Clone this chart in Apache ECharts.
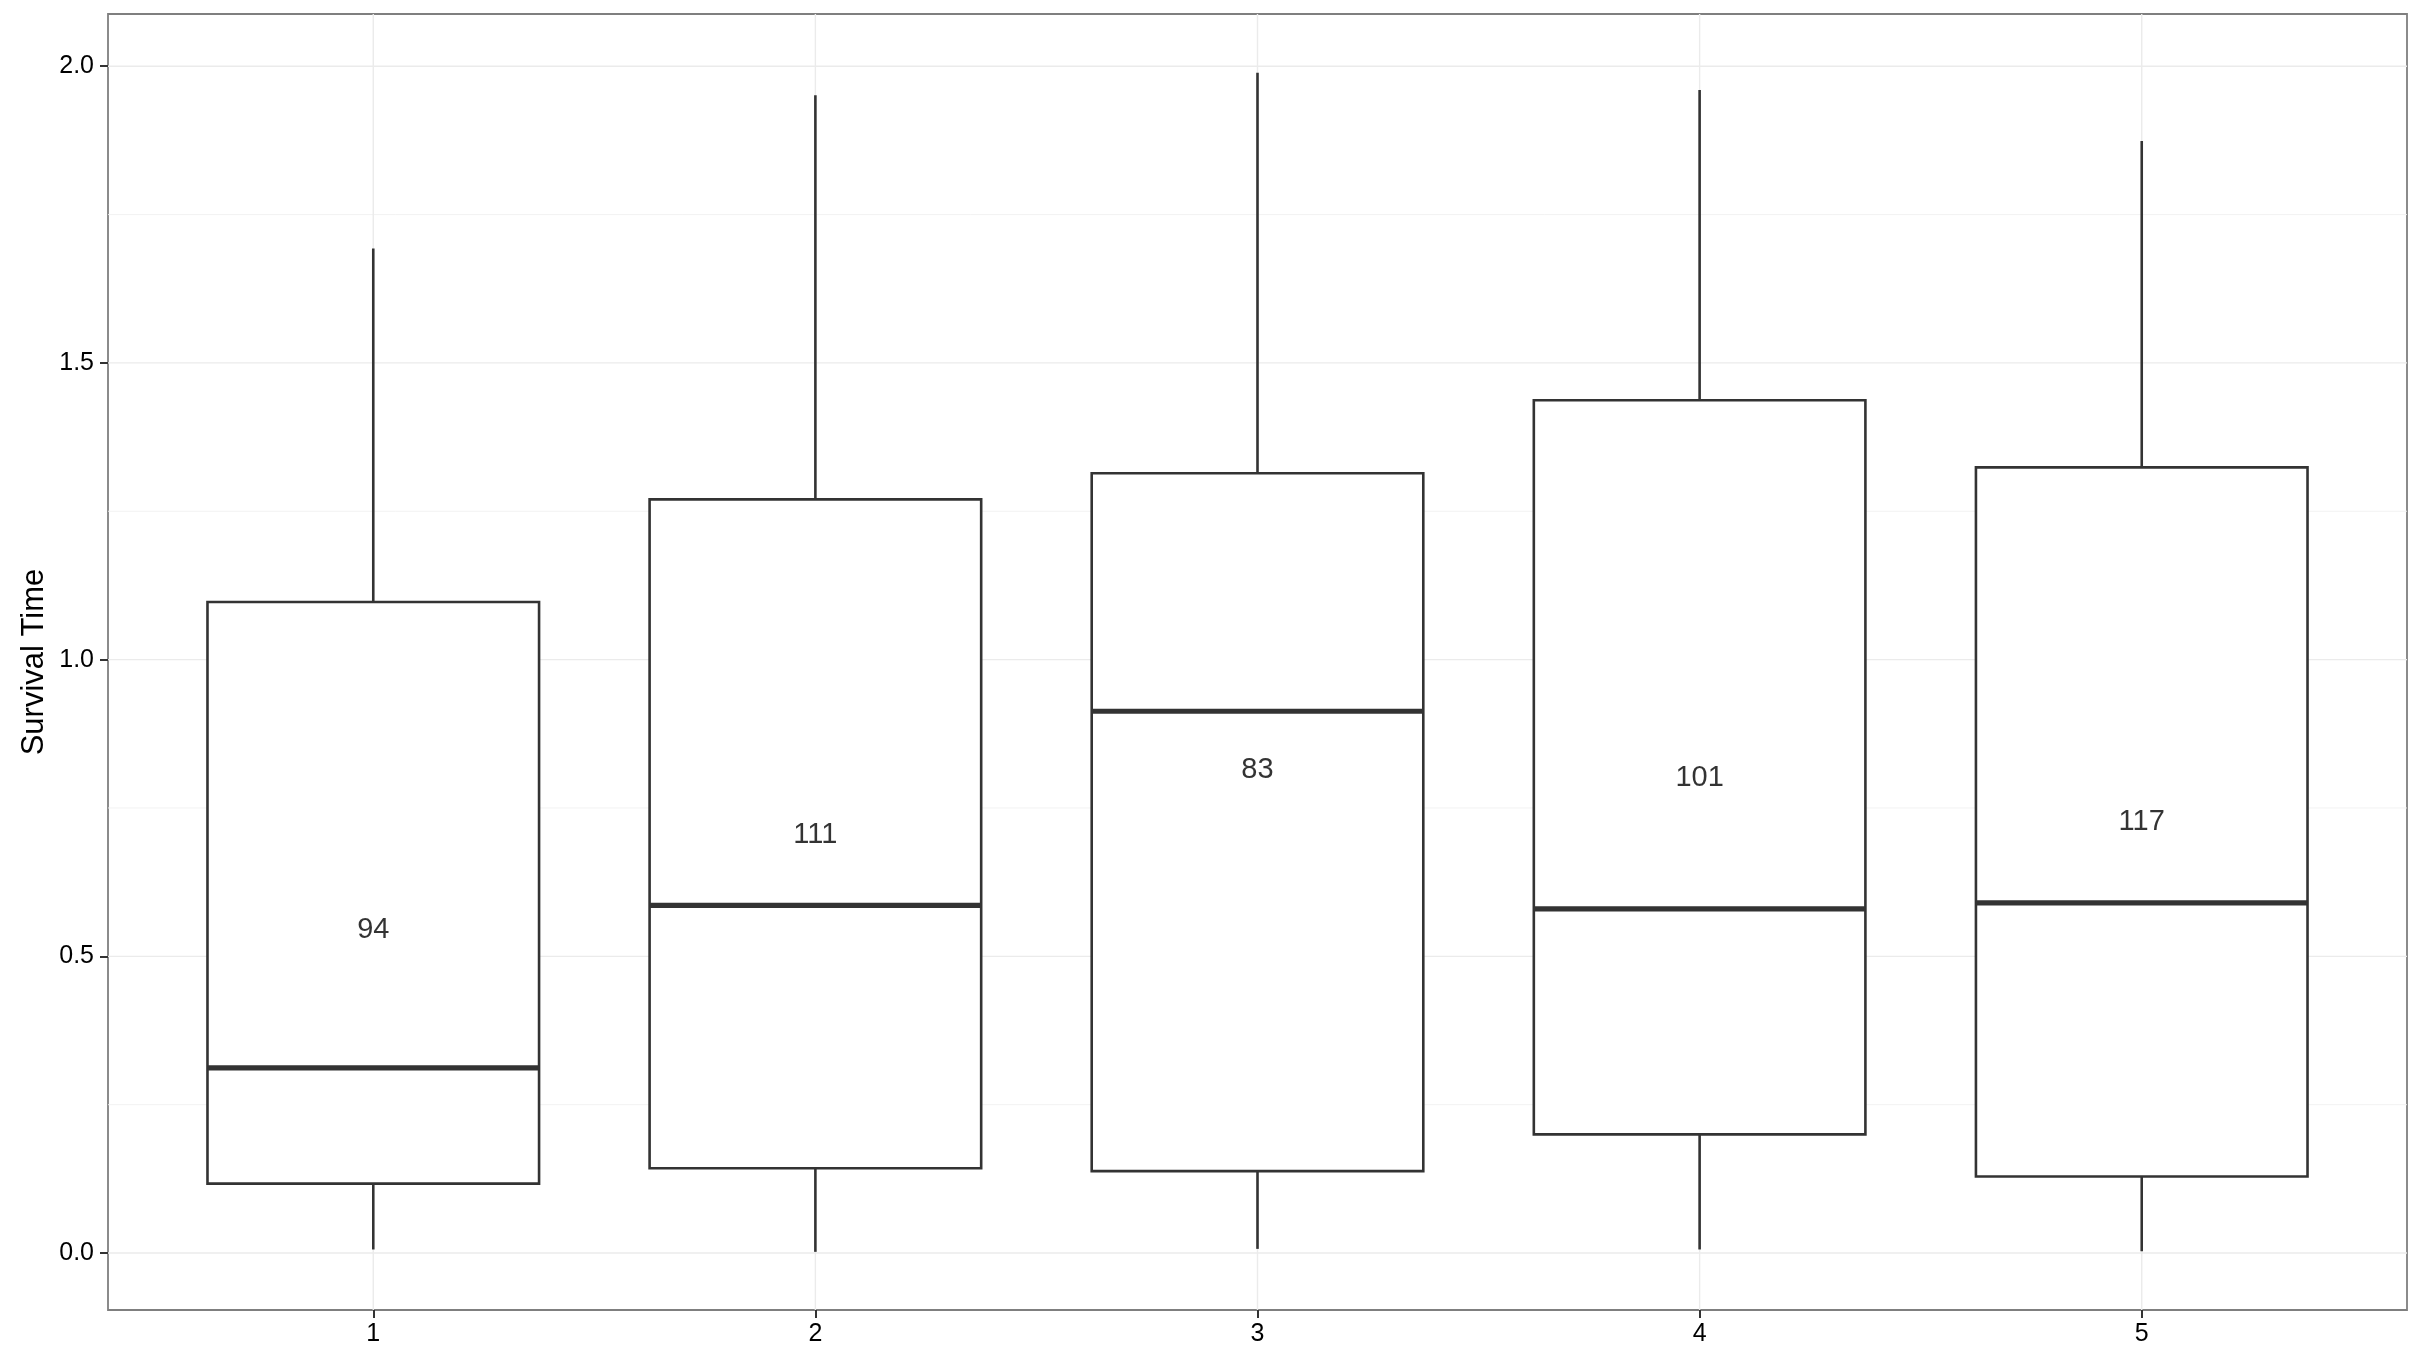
<!DOCTYPE html>
<html>
<head>
<meta charset="utf-8">
<script src="https://cdn.jsdelivr.net/npm/echarts@6/dist/echarts.min.js"></script>
<style>
  html, body { margin: 0; padding: 0; background: #fff; }
  #chart { width: 2420px; height: 1354px; }
</style>
</head>
<body>
<div id="chart"></div>
<script>
// box stats per group
const categories = ['1', '2', '3', '4', '5']
const whiskerLow = [0.006, 0.002, 0.007, 0.006, 0.003]
const q1 = [0.117, 0.143, 0.138, 0.200, 0.129]
const median = [0.312, 0.586, 0.913, 0.580, 0.590]
const q3 = [1.097, 1.270, 1.314, 1.437, 1.324]
const whiskerHigh = [1.693, 1.951, 1.989, 1.960, 1.874]
// group sizes, drawn at the group mean
const counts = [94, 111, 83, 101, 117]
const countY = [0.549, 0.710, 0.819, 0.805, 0.731]
const yTicks = [0, 0.5, 1.0, 1.5, 2.0]
const yMinorTicks = [0.25, 0.75, 1.25, 1.75]
const xTicks = [1, 2, 3, 4, 5]

const FONT = 'Liberation Sans'
const INK = '#333333'

const boxData = categories.map((c, i) => [i + 1, whiskerLow[i], q1[i], median[i], q3[i], whiskerHigh[i]])
const countData = categories.map((c, i) => [i + 1, countY[i], counts[i]])

function hLines (color, width) {
  return function (params, api) {
    const cs = params.coordSys
    const y = api.coord([1, api.value(0)])[1]
    return {type: 'line', shape: {x1: cs.x, y1: y, x2: cs.x + cs.width, y2: y}, style: {stroke: color, lineWidth: width}}
  }
}

function vLines (params, api) {
  const cs = params.coordSys
  const x = api.coord([api.value(0), 0])[0]
  return {type: 'line', shape: {x1: x, y1: cs.y, x2: x, y2: cs.y + cs.height}, style: {stroke: '#EBEBEB', lineWidth: 1.4}}
}

function renderBox (params, api) {
  const x = api.value(0)
  const half = api.size([0.75, 0])[0] / 2
  const pLow = api.coord([x, api.value(1)])
  const pQ1 = api.coord([x, api.value(2)])
  const pMed = api.coord([x, api.value(3)])
  const pQ3 = api.coord([x, api.value(4)])
  const pHigh = api.coord([x, api.value(5)])
  const line = {stroke: INK, lineWidth: 2.6}
  return {
    type: 'group',
    children: [
      {type: 'line', shape: {x1: pLow[0], y1: pLow[1], x2: pQ1[0], y2: pQ1[1]}, style: line},
      {type: 'line', shape: {x1: pQ3[0], y1: pQ3[1], x2: pHigh[0], y2: pHigh[1]}, style: line},
      {type: 'rect', shape: {x: pQ3[0] - half, y: pQ3[1], width: half * 2, height: pQ1[1] - pQ3[1]}, style: {fill: '#ffffff', stroke: INK, lineWidth: 2.6}},
      {type: 'line', shape: {x1: pMed[0] - half, y1: pMed[1], x2: pMed[0] + half, y2: pMed[1]}, style: {stroke: INK, lineWidth: 5.2}}
    ]
  }
}

const chart = echarts.init(document.getElementById('chart'))
const option = {
  animation: false,
  backgroundColor: '#ffffff',
  textStyle: {fontFamily: FONT},
  grid: {
    left: 108, right: 13, top: 14, bottom: 44,
    show: true, backgroundColor: '#ffffff', borderColor: '#7F7F7F', borderWidth: 1.8
  },
  xAxis: {
    type: 'value',
    min: 0.4,
    max: 5.6,
    axisLine: {show: false, onZero: false},
    axisTick: {show: true, length: 8, customValues: xTicks, lineStyle: {color: INK, width: 2}},
    axisLabel: {
      customValues: xTicks,
      margin: 12,
      fontSize: 25,
      color: '#000000',
      fontFamily: FONT,
      formatter: v => categories[Math.round(v) - 1]
    },
    splitLine: {show: false}
  },
  yAxis: {
    type: 'value',
    min: -0.096,
    max: 2.088,
    name: 'Survival Time',
    nameLocation: 'middle',
    nameGap: 58,
    nameMoveOverlap: false,
    nameTextStyle: {fontSize: 31, color: '#000000', fontFamily: FONT},
    axisLine: {show: false, onZero: false},
    axisTick: {show: true, length: 8, customValues: yTicks, lineStyle: {color: INK, width: 2}},
    axisLabel: {
      customValues: yTicks,
      margin: 14,
      fontSize: 25,
      color: '#000000',
      fontFamily: FONT,
      formatter: v => v.toFixed(1)
    },
    splitLine: {show: false}
  },
  series: [
    {
      type: 'custom', name: 'minor', z: 1, silent: true,
      data: yMinorTicks.map(v => [v]),
      renderItem: hLines('#F0F0F0', 0.9)
    },
    {
      type: 'custom', name: 'majorY', z: 1, silent: true,
      data: yTicks.map(v => [v]),
      renderItem: hLines('#EBEBEB', 1.4)
    },
    {
      type: 'custom', name: 'majorX', z: 1, silent: true,
      data: xTicks.map(v => [v]),
      renderItem: vLines
    },
    {
      type: 'custom', name: 'boxes', z: 3,
      data: boxData,
      encode: {x: 0, y: [1, 2, 3, 4, 5]},
      renderItem: renderBox
    },
    {
      type: 'scatter', name: 'counts', z: 4,
      symbolSize: 0,
      data: countData,
      label: {
        show: true,
        position: 'inside',
        offset: [0, 3],
        fontSize: 29,
        color: '#000000',
        fontFamily: FONT,
        formatter: p => String(p.value[2])
      }
    }
  ]
}
chart.setOption(option, true)
</script>
</body>
</html>
